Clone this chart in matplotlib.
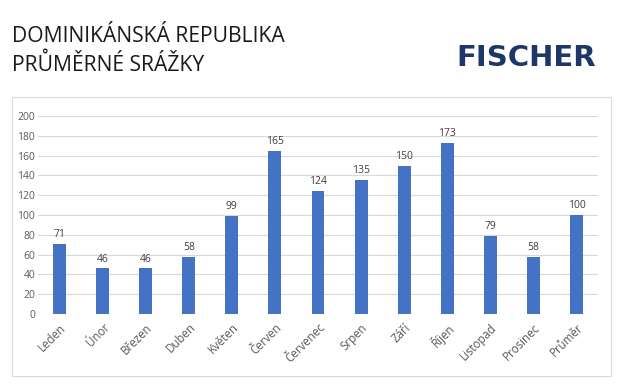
import matplotlib
matplotlib.use('Agg')
from matplotlib import pyplot as plt
from matplotlib.patches import Rectangle

months = ['Leden', 'Únor', 'Březen', 'Duben', 'Květen', 'Červen', 'Červenec',
          'Srpen', 'Září', 'Říjen', 'Listopad', 'Prosinec', 'Průměr']
rainfall = [71, 46, 46, 58, 99, 165, 124, 135, 150, 173, 79, 58, 100]
yticks = list(range(0, 201, 20))

bar_color = '#4472C4'
grid_color = '#d9d9d9'
text_color = '#595959'

plt.rcParams['font.family'] = ['Open Sans', 'DejaVu Sans']

fig = plt.figure(figsize=(6.2, 3.87), dpi=100)
fig.patch.set_facecolor('white')

# chart frame
fig.add_artist(Rectangle((12 / 620, 1 - 376 / 387), 599 / 620, 279 / 387,
                         transform=fig.transFigure, fill=False,
                         edgecolor=grid_color, linewidth=0.8))

ax = fig.add_axes([38 / 620, 1 - 314 / 387, 560 / 620, 198 / 387])
x = list(range(len(months)))
bars = ax.bar(x, rainfall, width=0.3, color=bar_color, zorder=3)
for b, v in zip(bars, rainfall):
    ax.text(b.get_x() + b.get_width() / 2, v + 4, str(v), ha='center', va='bottom',
            fontsize=7.5, color='#404040')

ax.set_xlim(-0.5, len(months) - 0.5)
ax.set_ylim(0, 200)
ax.set_yticks(yticks)
ax.set_xticks(x)
ax.set_xticklabels(months, rotation=45, ha='right', rotation_mode='anchor',
                   fontsize=8.3)
ax.tick_params(axis='both', length=0, colors=text_color)
ax.tick_params(axis='y', labelsize=7.5, pad=2)
ax.tick_params(axis='x', pad=5)
ax.grid(axis='y', color=grid_color, linewidth=0.8, zorder=0)
for s in ax.spines.values():
    s.set_visible(False)

fig.text(12 / 620, 1 - 42 / 387, 'DOMINIKÁNSKÁ REPUBLIKA', fontsize=15.2,
         color='#1a1a1a', ha='left', va='baseline')
fig.text(12 / 620, 1 - 71 / 387, 'PRŮMĚRNÉ SRÁŽKY', fontsize=15.2,
         color='#1a1a1a', ha='left', va='baseline')
fig.text(596 / 620, 1 - 66 / 387, 'FISCHER', fontsize=21, fontweight='bold',
         color='#1d3768', ha='right', va='baseline',
         family=['DejaVu Sans'])

fig.savefig('out.png', dpi=100)
